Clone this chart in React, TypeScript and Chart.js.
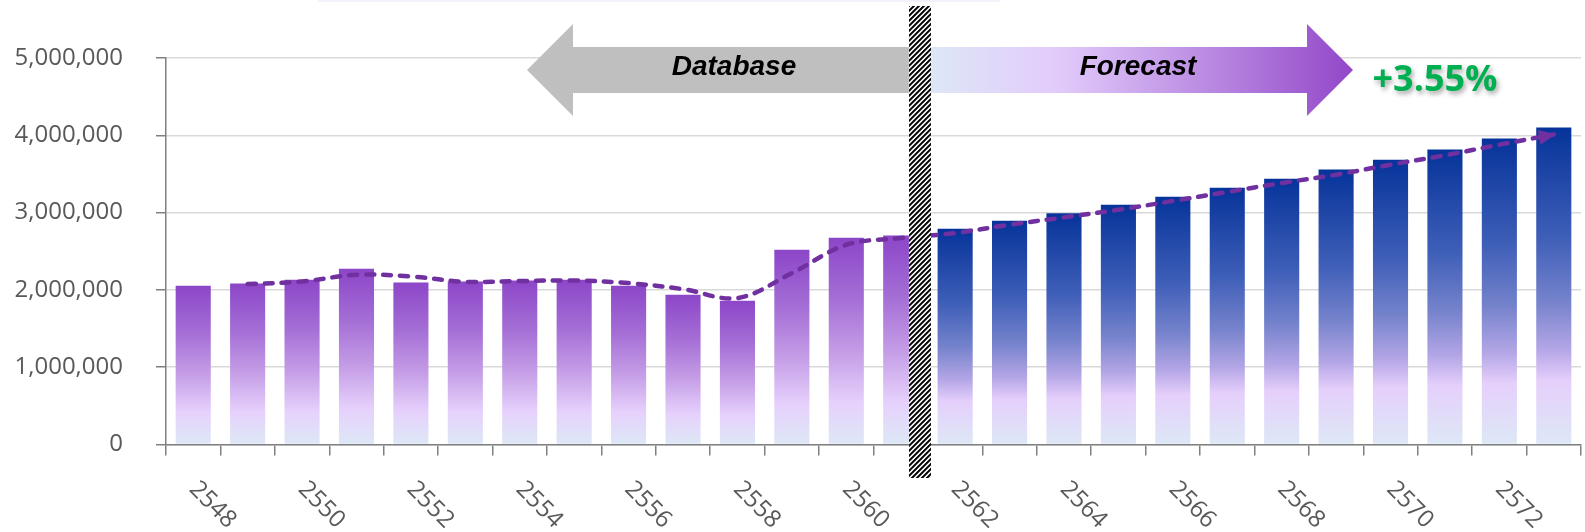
import React, { useEffect, useRef } from "react";
import { Chart, registerables } from "chart.js";

Chart.register(...registerables);

const years = [
  "2548", "2549", "2550", "2551", "2552", "2553", "2554", "2555", "2556",
  "2557", "2558", "2559", "2560", "2561", "2562", "2563", "2564", "2565",
  "2566", "2567", "2568", "2569", "2570", "2571", "2572", "2573",
];

// Recorded values (2548–2561)
const actualValues = [
  2053000, 2083000, 2131000, 2273000, 2096000, 2109000, 2122000, 2131000,
  2053000, 1937000, 1859000, 2520000, 2675000, 2705000,
];

// Projected values (2562–2573)
const forecastValues = [
  2791000, 2895000, 2990000, 3102000, 3206000, 3322000, 3439000, 3556000,
  3685000, 3815000, 3957000, 4100000,
];

// Smoothed trend line
const trendValues = [
  null, 2075000, 2109000, 2196000, 2174000, 2105000, 2114000, 2122000,
  2088000, 2010000, 1894000, 2217000, 2584000, 2670000, 2736000, 2843000,
  2938000, 3037000, 3150000, 3267000, 3383000, 3490000, 3620000, 3741000,
  3879000, 4010000,
];

const yTicks = [0, 1000000, 2000000, 3000000, 4000000, 5000000];

const growthLabel = "+3.55%";
const pastLabel = "Database";
const futureLabel = "Forecast";

const barValues = [...actualValues, ...forecastValues];

const LABEL_FAMILY = "Open Sans";
const LABEL_SIZE = 24;
const AXIS_COLOR = "#808080";
const TEXT_COLOR = "#595959";

function drawArrow(
  ctx: CanvasRenderingContext2D,
  tailX: number,
  headBaseX: number,
  tipX: number,
  cy: number,
  bodyHalf: number,
  headHalf: number
) {
  ctx.beginPath();
  ctx.moveTo(tailX, cy - bodyHalf);
  ctx.lineTo(headBaseX, cy - bodyHalf);
  ctx.lineTo(headBaseX, cy - headHalf);
  ctx.lineTo(tipX, cy);
  ctx.lineTo(headBaseX, cy + headHalf);
  ctx.lineTo(headBaseX, cy + bodyHalf);
  ctx.lineTo(tailX, cy + bodyHalf);
  ctx.closePath();
  ctx.fill();
}

const decorations = {
  id: "decorations",
  afterDraw(chart: any) {
    const { ctx, scales } = chart;
    const xs = scales.x;
    const ys = scales.y;

    // faint strip along the top edge
    ctx.save();
    ctx.fillStyle = "#f3f1f9";
    ctx.fillRect(318, 0, 682, 2);
    ctx.restore();

    // rotated year labels, every second category
    ctx.save();
    ctx.font = `${LABEL_SIZE}px "${LABEL_FAMILY}"`;
    ctx.fillStyle = TEXT_COLOR;
    ctx.textAlign = "left";
    ctx.textBaseline = "middle";
    const angle = (45 * Math.PI) / 180;
    years.forEach((label, i) => {
      if (i % 2 !== 0) return;
      const x = xs.getPixelForValue(i);
      ctx.save();
      ctx.translate(x, ys.bottom + 41);
      ctx.rotate(angle);
      ctx.fillText(label, 0, 0);
      ctx.restore();
    });
    ctx.restore();

    // arrowhead at the end of the trend line
    const meta = chart.getDatasetMeta(1);
    const pts = meta.data;
    const last = pts[pts.length - 1];
    const prev = pts[pts.length - 2];
    if (last && prev) {
      const ang = Math.atan2(last.y - prev.y, last.x - prev.x);
      ctx.save();
      ctx.translate(last.x, last.y);
      ctx.rotate(ang);
      ctx.fillStyle = "#7030a0";
      ctx.beginPath();
      ctx.moveTo(2, 0);
      ctx.lineTo(-15, -7.5);
      ctx.lineTo(-15, 7.5);
      ctx.closePath();
      ctx.fill();
      ctx.restore();
    }

    // divider between recorded and projected years
    const mid = (xs.getPixelForValue(13) + xs.getPixelForValue(14)) / 2;
    const hx = mid - 19;
    const hw = 22;
    const hy0 = 6;
    const hy1 = 478;

    // "Database" arrow (pointing left)
    ctx.save();
    ctx.fillStyle = "#bfbfbf";
    drawArrow(ctx, hx, 573, 527, 70, 23, 46);
    ctx.restore();

    // "Forecast" arrow (pointing right)
    ctx.save();
    const fg = ctx.createLinearGradient(hx + hw, 0, 1353, 0);
    fg.addColorStop(0, "#dde7f7");
    fg.addColorStop(0.3, "#e2cbfb");
    fg.addColorStop(0.7, "#b582de");
    fg.addColorStop(1, "#9347c8");
    ctx.fillStyle = fg;
    drawArrow(ctx, hx + hw, 1307, 1353, 70, 23, 46);
    ctx.restore();

    ctx.save();
    ctx.font = 'italic bold 28px "Liberation Sans"';
    ctx.fillStyle = "#000000";
    ctx.textAlign = "center";
    ctx.textBaseline = "middle";
    ctx.fillText(pastLabel, 734, 67);
    ctx.fillText(futureLabel, 1138, 67);
    ctx.restore();

    // hatched divider
    ctx.save();
    ctx.fillStyle = "#ffffff";
    ctx.fillRect(hx, hy0, hw, hy1 - hy0);
    ctx.beginPath();
    ctx.rect(hx, hy0, hw, hy1 - hy0);
    ctx.clip();
    ctx.strokeStyle = "#000000";
    ctx.lineWidth = 2;
    ctx.beginPath();
    for (let y = hy0 - 10; y < hy1 + hw + 10; y += 5) {
      ctx.moveTo(hx - 2, y + 2);
      ctx.lineTo(hx + hw + 2, y - hw - 2);
    }
    ctx.stroke();
    ctx.restore();

    // growth rate
    ctx.save();
    ctx.font = 'bold 36px "Open Sans"';
    ctx.fillStyle = "#00b050";
    ctx.textAlign = "center";
    ctx.textBaseline = "alphabetic";
    ctx.shadowColor = "rgba(0,0,0,0.35)";
    ctx.shadowBlur = 5;
    ctx.shadowOffsetX = 2;
    ctx.shadowOffsetY = 3;
    ctx.fillText(growthLabel, 1435, 91);
    ctx.restore();
  },
};

function barFill(c: any) {
  const chart = c.chart;
  const idx = c.dataIndex;
  const isActual = idx === undefined || idx < actualValues.length;
  if (!chart.chartArea || idx === undefined) return isActual ? "#8c46c8" : "#06339a";
  const ys = chart.scales.y;
  const top = ys.getPixelForValue(barValues[idx]);
  const bottom = ys.getPixelForValue(0);
  const g = chart.ctx.createLinearGradient(0, top, 0, bottom);
  if (isActual) {
    g.addColorStop(0, "#8c46c8");
    g.addColorStop(0.3, "#a56fd6");
    g.addColorStop(0.55, "#c49ce6");
    g.addColorStop(0.8, "#e6d1fc");
    g.addColorStop(1, "#dde8f6");
  } else {
    g.addColorStop(0, "#06339a");
    g.addColorStop(0.35, "#3f5fb8");
    g.addColorStop(0.55, "#7683cc");
    g.addColorStop(0.7, "#b4a6e6");
    g.addColorStop(0.8, "#e5cffb");
    g.addColorStop(1, "#dde8f6");
  }
  return g;
}

export default function App() {
  const canvasRef = useRef<HTMLCanvasElement | null>(null);

  useEffect(() => {
    document.body.style.margin = "0";
    const canvas = canvasRef.current;
    if (!canvas) return;
    const chart = new Chart(canvas, {
      type: "bar",
      data: {
        labels: years,
        datasets: [
          {
            type: "bar",
            data: barValues,
            backgroundColor: barFill,
            borderWidth: 0,
            categoryPercentage: 1,
            barPercentage: 0.645,
            order: 2,
          },
          {
            type: "line",
            data: trendValues,
            borderColor: "#7030a0",
            borderWidth: 4.5,
            borderDash: [8, 9],
            borderCapStyle: "round",
            tension: 0.35,
            pointRadius: 0,
            fill: false,
            order: 1,
          },
        ],
      },
      options: {
        animation: false,
        responsive: true,
        maintainAspectRatio: false,
        layout: { padding: { top: 58, right: 4, left: 0, bottom: 0 } },
        plugins: {
          legend: { display: false },
          tooltip: { enabled: false },
        },
        scales: {
          x: {
            ticks: { display: false, autoSkip: false },
            grid: {
              drawOnChartArea: false,
              drawTicks: true,
              tickLength: 11,
              color: AXIS_COLOR,
              lineWidth: 1.5,
            },
            border: { color: AXIS_COLOR, width: 1.5 },
            afterFit(scale: any) {
              scale.height = 87.5;
            },
          },
          y: {
            min: 0,
            max: 5000000,
            afterBuildTicks(scale: any) {
              scale.ticks = yTicks.map((v) => ({ value: v }));
            },
            ticks: {
              padding: 33,
              color: TEXT_COLOR,
              font: { family: LABEL_FAMILY, size: LABEL_SIZE },
              callback: (v: any) => Number(v).toLocaleString("en-US"),
            },
            grid: {
              color: "#d9d9d9",
              lineWidth: 1.5,
              tickColor: AXIS_COLOR,
              tickLength: 10,
            },
            border: { color: AXIS_COLOR, width: 1.5 },
            afterFit(scale: any) {
              scale.width = 166;
            },
          },
        },
      },
      plugins: [decorations],
    });
    return () => chart.destroy();
  }, []);

  return (
    <div style={{ width: 1585, height: 532, position: "relative" }}>
      <canvas ref={canvasRef} />
    </div>
  );
}
